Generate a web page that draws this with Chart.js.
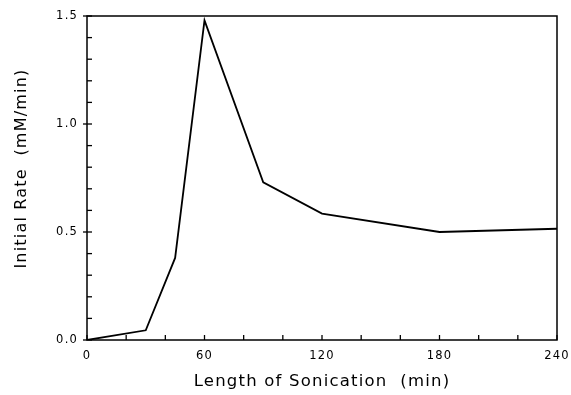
<!DOCTYPE html>
<html>
<head>
<meta charset="utf-8">
<script src="https://cdn.jsdelivr.net/npm/chart.js@4.4.0/dist/chart.umd.min.js"></script>
<style>
  html, body { margin: 0; padding: 0; background: #fff; }
  #wrap { width: 571px; height: 395px; }
</style>
</head>
<body>
<div id="wrap"><canvas id="myChart"></canvas></div>
<script>
// sonication time (min) and initial rate (mM/min)
const minutes = [0, 30, 45, 60, 90, 120, 180, 240]
const rates = [0.0, 0.045, 0.38, 1.48, 0.73, 0.585, 0.50, 0.515]

const xTicks = [0, 60, 120, 180, 240]
const yTicks = [0.0, 0.5, 1.0, 1.5]

const FONT = "'DejaVu Sans', sans-serif"

// wider letter spacing like the old plotter lettering
const spacing = {
  id: 'spacing',
  beforeDraw(chart) { chart.ctx.letterSpacing = '1.2px' }
}

// little ticks pointing into the plot, plus the box round it
const frame = {
  id: 'frame',
  afterDraw(chart) {
    const ctx = chart.ctx
    const a = chart.chartArea
    const xs = chart.scales.x
    const ys = chart.scales.y
    ctx.save()
    ctx.strokeStyle = '#000'
    ctx.lineWidth = 1.5
    ctx.strokeRect(a.left, a.top, a.right - a.left, a.bottom - a.top)
    ctx.lineWidth = 1.3
    for (let m = 0; m <= 240; m += 20) {
      const px = xs.getPixelForValue(m)
      ctx.beginPath()
      ctx.moveTo(px, a.bottom)
      ctx.lineTo(px, a.bottom - 5)
      ctx.stroke()
    }
    for (let i = 0; i <= 15; i++) {
      const py = ys.getPixelForValue(i / 10)
      ctx.beginPath()
      ctx.moveTo(a.left - (i % 5 == 0 ? 4 : 0), py)
      ctx.lineTo(a.left + 5, py)
      ctx.stroke()
    }
    ctx.restore()
  }
}

const ctx = document.getElementById('myChart').getContext('2d')
const chart = new Chart(ctx, {
  type: 'line',
  data: {
    datasets: [{
      data: minutes.map((m, i) => ({ x: m, y: rates[i] })),
      borderColor: '#000',
      borderWidth: 1.8,
      pointRadius: 0,
      tension: 0,
      fill: false
    }]
  },
  options: {
    responsive: true,
    maintainAspectRatio: false,
    animation: false,
    layout: { padding: { left: 0, right: 0, top: 16, bottom: 0 } },
    plugins: { legend: { display: false }, tooltip: { enabled: false } },
    scales: {
      x: {
        type: 'linear',
        min: 0,
        max: 240,
        afterBuildTicks: (s) => { s.ticks = xTicks.map(v => ({ value: v })) },
        afterFit: (s) => { s.height = 55; s.paddingRight = 14; s.paddingLeft = 0 },
        grid: { display: false, drawTicks: false },
        border: { display: false },
        ticks: { padding: 9, color: '#000', font: { family: FONT, size: 11.5 }, maxRotation: 0 },
        title: {
          display: true,
          text: 'Length of Sonication  (min)',
          color: '#000',
          font: { family: FONT, size: 16.5 },
          padding: { top: 0, bottom: 3 }
        }
      },
      y: {
        min: 0,
        max: 1.5,
        afterBuildTicks: (s) => { s.ticks = yTicks.map(v => ({ value: v })) },
        afterFit: (s) => { s.width = 87 },
        grid: { display: false, drawTicks: false },
        border: { display: false },
        ticks: {
          padding: 9,
          color: '#000',
          font: { family: FONT, size: 11.5 },
          callback: (v) => Number(v).toFixed(1)
        },
        title: {
          display: true,
          text: '   Initial Rate  (mM/min)',
          color: '#000',
          font: { family: FONT, size: 16 },
          padding: { top: 12, bottom: 0 }
        }
      }
    }
  },
  plugins: [spacing, frame]
})
</script>
</body>
</html>
